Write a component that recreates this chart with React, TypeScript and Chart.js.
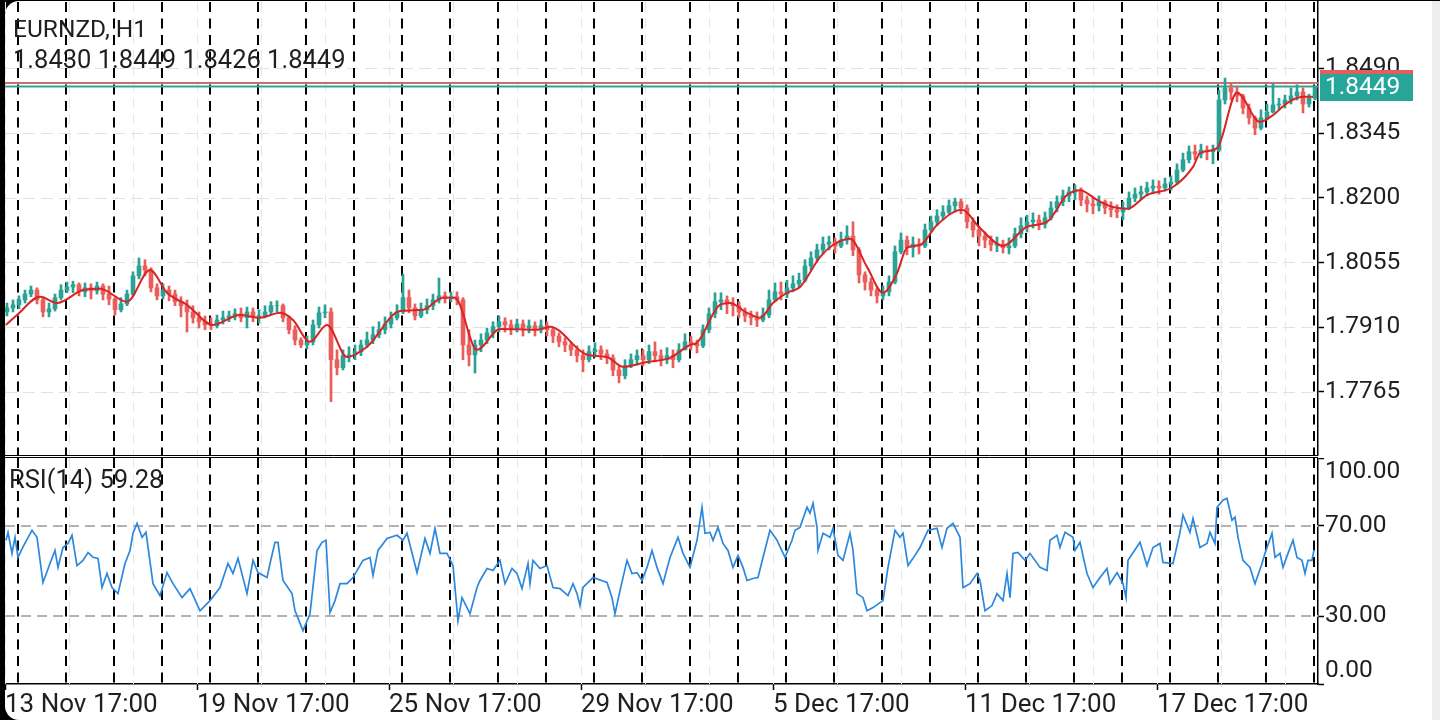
import React, { useEffect, useRef } from 'react';
import { Chart, registerables } from 'chart.js';

Chart.register(...registerables);

const FONT = 'Roboto, "Noto Sans", "DejaVu Sans", sans-serif';
const TEXT_COLOR = '#1f1f1f';

const SYMBOL_LABEL = 'EURNZD, H1';
const LAST_BAR_OHLC = '1.8430 1.8449 1.8426 1.8449';
const RSI_LABEL = 'RSI(14) 59.28';

// time axis (hours since 13 Nov 17:00)
const TIME_TICK_HOURS = [0, 96, 192, 288, 384, 480, 576];
const TIME_LABELS = ['13 Nov 17:00', '19 Nov 17:00', '25 Nov 17:00', '29 Nov 17:00', '5 Dec 17:00', '11 Dec 17:00', '17 Dec 17:00'];
const PRICE_TICKS = [1.7765, 1.791, 1.8055, 1.82, 1.8345, 1.849];
const RSI_TICKS = [0, 30, 70, 100];
const RSI_LEVELS = [30, 70];
const BID_PRICE = 1.8449;
const ASK_PRICE = 1.8457;

// candles, 3 hours each
const HOURS_PER_CANDLE = 3;
const FIRST_OPEN = 1.7944;
const CLOSE = [
  1.7953, 1.7960, 1.7971, 1.7984, 1.7993, 1.7971, 1.7944, 1.7951, 1.7976, 1.7993,
  1.8000, 1.8005, 1.7989, 1.7998, 1.7991, 1.8002, 1.7984, 1.7973, 1.7949, 1.7962,
  1.7984, 1.8025, 1.8047, 1.8038, 1.7998, 1.7980, 1.7993, 1.7984, 1.7967, 1.7958,
  1.7944, 1.7931, 1.7922, 1.7915, 1.7913, 1.7926, 1.7931, 1.7935, 1.7940, 1.7931,
  1.7944, 1.7933, 1.7935, 1.7944, 1.7958, 1.7958, 1.7931, 1.7904, 1.7881, 1.7870,
  1.7877, 1.7915, 1.7942, 1.7944, 1.7837, 1.7819, 1.7846, 1.7848, 1.7855, 1.7870,
  1.7881, 1.7893, 1.7904, 1.7917, 1.7931, 1.7944, 1.7976, 1.7953, 1.7935, 1.7949,
  1.7958, 1.7971, 1.7980, 1.7976, 1.7978, 1.7971, 1.7870, 1.7848, 1.7870, 1.7881,
  1.7897, 1.7911, 1.7922, 1.7915, 1.7908, 1.7917, 1.7908, 1.7913, 1.7904, 1.7913,
  1.7904, 1.7890, 1.7877, 1.7870, 1.7859, 1.7846, 1.7837, 1.7855, 1.7859, 1.7850,
  1.7841, 1.7814, 1.7801, 1.7823, 1.7837, 1.7846, 1.7837, 1.7855, 1.7846, 1.7837,
  1.7846, 1.7837, 1.7859, 1.7877, 1.7873, 1.7868, 1.7904, 1.7940, 1.7967, 1.7971,
  1.7962, 1.7958, 1.7944, 1.7935, 1.7931, 1.7926, 1.7937, 1.7971, 1.7989, 1.7984,
  1.7998, 1.8007, 1.8015, 1.8047, 1.8065, 1.8083, 1.8096, 1.8101, 1.8092, 1.8105,
  1.8114, 1.8083, 1.8027, 1.8011, 1.7993, 1.7980, 1.7989, 1.8011, 1.8079, 1.8105,
  1.8088, 1.8096, 1.8092, 1.8128, 1.8146, 1.8159, 1.8168, 1.8182, 1.8191, 1.8177,
  1.8146, 1.8128, 1.8114, 1.8105, 1.8094, 1.8096, 1.8088, 1.8092, 1.8119, 1.8137,
  1.8146, 1.8150, 1.8141, 1.8155, 1.8177, 1.8191, 1.8204, 1.8213, 1.8217, 1.8195,
  1.8186, 1.8182, 1.8191, 1.8177, 1.8173, 1.8168, 1.8177, 1.8199, 1.8208, 1.8213,
  1.8222, 1.8226, 1.8222, 1.8231, 1.8235, 1.8262, 1.8285, 1.8303, 1.8298, 1.8307,
  1.8303, 1.8307, 1.8419, 1.8446, 1.8437, 1.8428, 1.8401, 1.8379, 1.8356, 1.8379,
  1.8392, 1.8408, 1.8410, 1.8419, 1.8428, 1.8437, 1.8410, 1.8423, 1.8449,
];
const HIGH = [
  1.7964, 1.7971, 1.7980, 1.7993, 1.8002, 1.7998, 1.7978, 1.7964, 1.7984, 1.8005,
  1.8011, 1.8013, 1.8009, 1.8009, 1.8007, 1.8011, 1.8007, 1.8002, 1.7976, 1.7976,
  1.7993, 1.8034, 1.8065, 1.8061, 1.8043, 1.8007, 1.8007, 1.8002, 1.7993, 1.7978,
  1.7971, 1.7958, 1.7944, 1.7935, 1.7931, 1.7937, 1.7946, 1.7946, 1.7951, 1.7953,
  1.7955, 1.7953, 1.7949, 1.7958, 1.7967, 1.7969, 1.7962, 1.7935, 1.7913, 1.7886,
  1.7890, 1.7926, 1.7955, 1.7960, 1.7953, 1.7859, 1.7859, 1.7866, 1.7870, 1.7881,
  1.7899, 1.7911, 1.7922, 1.7933, 1.7944, 1.7960, 1.8029, 1.7993, 1.7962, 1.7964,
  1.7973, 1.7984, 1.8020, 1.7989, 1.7989, 1.7989, 1.7976, 1.7904, 1.7881, 1.7895,
  1.7908, 1.7922, 1.7935, 1.7931, 1.7926, 1.7928, 1.7926, 1.7926, 1.7922, 1.7926,
  1.7922, 1.7908, 1.7897, 1.7886, 1.7877, 1.7868, 1.7859, 1.7868, 1.7875, 1.7868,
  1.7859, 1.7848, 1.7823, 1.7837, 1.7850, 1.7859, 1.7859, 1.7870, 1.7877, 1.7859,
  1.7864, 1.7859, 1.7873, 1.7895, 1.7890, 1.7881, 1.7915, 1.7953, 1.7987, 1.7987,
  1.7980, 1.7976, 1.7967, 1.7953, 1.7946, 1.7944, 1.7953, 1.7993, 1.8009, 1.8011,
  1.8015, 1.8025, 1.8031, 1.8061, 1.8079, 1.8096, 1.8112, 1.8114, 1.8110, 1.8123,
  1.8137, 1.8146, 1.8088, 1.8034, 1.8020, 1.7998, 1.8002, 1.8025, 1.8092, 1.8121,
  1.8114, 1.8112, 1.8108, 1.8141, 1.8159, 1.8173, 1.8182, 1.8195, 1.8199, 1.8197,
  1.8184, 1.8155, 1.8137, 1.8123, 1.8114, 1.8112, 1.8105, 1.8110, 1.8132, 1.8155,
  1.8161, 1.8166, 1.8161, 1.8168, 1.8191, 1.8204, 1.8217, 1.8224, 1.8229, 1.8222,
  1.8204, 1.8199, 1.8204, 1.8195, 1.8191, 1.8184, 1.8191, 1.8213, 1.8222, 1.8226,
  1.8235, 1.8240, 1.8238, 1.8244, 1.8249, 1.8276, 1.8300, 1.8316, 1.8318, 1.8320,
  1.8316, 1.8318, 1.8441, 1.8468, 1.8455, 1.8450, 1.8432, 1.8410, 1.8383, 1.8397,
  1.8410, 1.8455, 1.8423, 1.8430, 1.8446, 1.8453, 1.8446, 1.8432, 1.8449,
];
const LOW = [
  1.7935, 1.7944, 1.7951, 1.7964, 1.7978, 1.7962, 1.7933, 1.7933, 1.7946, 1.7971,
  1.7987, 1.7987, 1.7980, 1.7978, 1.7973, 1.7984, 1.7971, 1.7960, 1.7937, 1.7944,
  1.7958, 1.7980, 1.8018, 1.8025, 1.7989, 1.7971, 1.7973, 1.7969, 1.7958, 1.7933,
  1.7899, 1.7919, 1.7908, 1.7904, 1.7904, 1.7908, 1.7917, 1.7922, 1.7926, 1.7922,
  1.7908, 1.7922, 1.7919, 1.7931, 1.7937, 1.7944, 1.7922, 1.7895, 1.7870, 1.7864,
  1.7861, 1.7870, 1.7908, 1.7931, 1.7743, 1.7803, 1.7814, 1.7832, 1.7837, 1.7846,
  1.7864, 1.7873, 1.7886, 1.7895, 1.7908, 1.7926, 1.7940, 1.7942, 1.7926, 1.7931,
  1.7940, 1.7949, 1.7964, 1.7964, 1.7967, 1.7960, 1.7837, 1.7823, 1.7807, 1.7855,
  1.7873, 1.7886, 1.7899, 1.7899, 1.7893, 1.7899, 1.7890, 1.7897, 1.7890, 1.7897,
  1.7890, 1.7875, 1.7866, 1.7855, 1.7846, 1.7832, 1.7810, 1.7832, 1.7843, 1.7837,
  1.7828, 1.7801, 1.7785, 1.7794, 1.7819, 1.7825, 1.7823, 1.7828, 1.7832, 1.7823,
  1.7828, 1.7819, 1.7832, 1.7859, 1.7859, 1.7852, 1.7864, 1.7897, 1.7931, 1.7949,
  1.7940, 1.7935, 1.7931, 1.7922, 1.7915, 1.7911, 1.7922, 1.7931, 1.7967, 1.7971,
  1.7976, 1.7989, 1.7998, 1.8011, 1.8038, 1.8056, 1.8074, 1.8083, 1.8076, 1.8088,
  1.8096, 1.8070, 1.8009, 1.7993, 1.7980, 1.7964, 1.7971, 1.7980, 1.8007, 1.8074,
  1.8072, 1.8067, 1.8074, 1.8088, 1.8123, 1.8137, 1.8150, 1.8164, 1.8168, 1.8164,
  1.8132, 1.8112, 1.8092, 1.8088, 1.8081, 1.8079, 1.8076, 1.8074, 1.8088, 1.8110,
  1.8123, 1.8132, 1.8128, 1.8132, 1.8150, 1.8168, 1.8182, 1.8191, 1.8195, 1.8182,
  1.8168, 1.8164, 1.8170, 1.8164, 1.8157, 1.8155, 1.8150, 1.8173, 1.8191, 1.8195,
  1.8204, 1.8211, 1.8208, 1.8215, 1.8217, 1.8231, 1.8258, 1.8278, 1.8285, 1.8289,
  1.8285, 1.8276, 1.8303, 1.8410, 1.8419, 1.8415, 1.8388, 1.8365, 1.8341, 1.8352,
  1.8374, 1.8390, 1.8397, 1.8401, 1.8410, 1.8419, 1.8390, 1.8403, 1.8419,
];

// moving average line (hour, price)
const MA_HOURS = [
  0.5, 6, 17.5, 26, 39, 47.5, 61, 72.5, 81, 91,
  104, 117.5, 127.5, 137.5, 144, 152.5, 161, 171, 181, 197.5,
  209, 219, 225, 236, 247.5, 266, 272.5, 291, 301, 309,
  321, 332.5, 342.5, 346, 357.5, 362.5, 371, 377.5, 384, 391,
  397.5, 407.5, 414, 422.5, 431, 439, 446, 451, 457.5, 466,
  478.5, 487.5, 499, 511, 521, 531, 537.5, 546, 554, 561,
  571, 584, 594, 597.5, 606, 616, 627.5, 634, 641, 649,
  654,
];
const MA_VALUES = [
  1.7915, 1.7937, 1.7978, 1.7964, 1.7993, 1.7996, 1.7967, 1.8038, 1.7987, 1.7960,
  1.7915, 1.7937, 1.7931, 1.7942, 1.7926, 1.7877, 1.7915, 1.7843, 1.7866, 1.7946,
  1.7949, 1.7976, 1.7976, 1.7859, 1.7906, 1.7904, 1.7911, 1.7848, 1.7843, 1.7821,
  1.7832, 1.7841, 1.7870, 1.7875, 1.7960, 1.7964, 1.7942, 1.7931, 1.7964, 1.7987,
  1.8000, 1.8067, 1.8094, 1.8108, 1.8045, 1.7987, 1.8031, 1.8088, 1.8094, 1.8139,
  1.8173, 1.8132, 1.8092, 1.8135, 1.8146, 1.8206, 1.8217, 1.8195, 1.8179, 1.8175,
  1.8206, 1.8224, 1.8269, 1.8300, 1.8311, 1.8435, 1.8370, 1.8385, 1.8412, 1.8426,
  1.8426,
];

// RSI(14) line (hour, value)
const RSI_HOURS = [
  0.5, 1.5, 3.5, 5, 6.5, 9, 13.5, 16, 19, 22.5,
  25, 26.5, 29, 31.5, 33.5, 36, 39, 41.5, 44, 46.5,
  48.5, 51, 53.5, 56.5, 60, 62.5, 64, 66, 68.5, 70.5,
  74, 77.5, 81, 84, 88.5, 92.5, 97.5, 102.5, 107.5, 111.5,
  114, 116.5, 121, 124, 126.5, 131, 132.5, 135, 136.5, 139,
  143.5, 145, 149, 152.5, 156, 158.5, 160.5, 162.5, 165, 167.5,
  171, 174, 176, 179, 182.5, 184, 186.5, 191, 196, 199,
  201, 206, 210, 212.5, 215, 217.5, 221, 224, 226.5, 228.5,
  232.5, 236, 237.5, 241, 244, 247.5, 250, 253.5, 256, 258.5,
  261.5, 262.5, 264, 267.5, 271, 274, 277.5, 281.5, 284, 286,
  287.5, 289, 294, 301, 303.5, 305, 307.5, 311, 313.5, 316,
  318.5, 321, 323.5, 326, 329, 332.5, 336.5, 339, 342.5, 346,
  347, 348.5, 350, 352.5, 354, 356.5, 359, 361.5, 364, 366.5,
  369, 371, 374, 376.5, 379, 382.5, 386, 390, 393.5, 395,
  397.5, 401, 402.5, 404, 406, 406.5, 409, 412.5, 414, 416.5,
  419, 422.5, 424, 426, 429, 431, 434, 437.5, 439, 441.5,
  445, 447.5, 449, 451.5, 454, 457.5, 461.5, 466, 468.5, 471,
  474, 477.5, 479, 482.5, 486, 487.5, 490, 493.5, 496, 499,
  501, 502.5, 504, 506.5, 510, 512.5, 517.5, 521, 522.5, 526,
  527.5, 530, 534, 535, 537.5, 541, 544, 547.5, 551, 552.5,
  556, 559, 560.5, 561.5, 567.5, 571, 574, 577.5, 579, 584,
  587.5, 589, 592.5, 594, 597.5, 601, 602.5, 605, 606, 609,
  611, 613.5, 615, 616.5, 619, 622.5, 625, 628.5, 630, 633.5,
  635, 637.5, 639, 641.5, 644, 646, 648.5, 650, 651.5, 653.5,
  654.5,
];
const RSI_VALUES = [
  63.6, 67.1, 57.8, 64.9, 56.0, 60.7, 68.0, 64.9, 44.9, 53.3,
  59.1, 51.6, 60.4, 62.2, 65.8, 52.4, 54.7, 58.2, 56.1, 55.6,
  42.7, 48.9, 42.7, 40.0, 53.3, 59.1, 66.7, 71.1, 64.9, 67.1,
  44.4, 39.1, 49.3, 44.4, 38.2, 42.2, 32.4, 36.9, 42.7, 53.3,
  48.9, 55.6, 40.0, 54.7, 49.3, 47.1, 53.3, 62.7, 62.7, 45.8,
  40.0, 32.4, 23.6, 31.1, 59.1, 62.7, 63.6, 31.6, 36.9, 44.4,
  44.4, 47.1, 50.2, 54.7, 56.0, 48.0, 59.1, 64.4, 65.8, 63.6,
  66.7, 49.3, 64.4, 57.8, 68.9, 57.8, 57.8, 52.4, 28.0, 38.2,
  31.1, 42.7, 45.8, 51.1, 50.2, 54.7, 44.4, 51.1, 48.9, 42.2,
  53.3, 44.4, 54.7, 51.1, 52.4, 42.7, 42.2, 39.1, 44.4, 40.0,
  34.7, 42.7, 47.1, 44.9, 38.2, 31.1, 41.3, 54.7, 48.9, 49.3,
  45.8, 51.6, 59.1, 51.6, 44.4, 56.0, 64.9, 57.8, 51.6, 63.6,
  69.3, 78.2, 66.7, 67.1, 63.6, 69.3, 62.2, 59.1, 51.6, 56.9,
  51.6, 45.8, 46.7, 47.1, 56.0, 68.0, 63.6, 56.0, 63.6, 68.0,
  69.3, 78.2, 75.6, 80.0, 69.3, 59.1, 66.7, 64.9, 68.9, 56.9,
  54.7, 66.7, 59.1, 40.0, 38.2, 32.4, 33.8, 36.0, 36.9, 51.6,
  68.0, 64.9, 66.7, 52.4, 55.6, 60.4, 68.0, 68.9, 60.4, 68.9,
  71.1, 64.9, 42.7, 44.4, 48.9, 45.8, 32.4, 34.7, 40.0, 36.9,
  48.9, 38.2, 57.8, 58.2, 54.7, 57.8, 51.6, 50.2, 63.6, 65.8,
  60.4, 67.1, 64.9, 59.1, 62.7, 48.9, 42.7, 47.1, 51.1, 44.4,
  49.3, 44.4, 38.2, 54.7, 62.7, 52.4, 60.4, 62.2, 53.8, 53.3,
  67.1, 74.7, 67.1, 73.3, 60.4, 62.2, 67.1, 62.2, 78.2, 81.3,
  82.2, 72.4, 73.8, 64.9, 54.7, 51.6, 44.4, 53.3, 57.8, 66.7,
  56.0, 57.8, 51.6, 57.8, 63.6, 56.0, 54.7, 48.9, 54.7, 54.7,
  59.28,
];

// ---------- styling / layout ----------
const BULL_COLOR = '#2aa396';
const BEAR_COLOR = '#ea5d5b';
const MA_COLOR = '#d82424';
const RSI_COLOR = '#2c88dc';
const X_MIN = 0;
const X_MAX = 656.5;
const PRICE_MIN = 1.76234;
const PRICE_MAX = 1.86386;
const GRID_HOURS = 32;
const DAY_SEPARATOR_OFFSET = 6.5;
const AXIS_WIDTH = 122;

const OPEN = CLOSE.map((_, i) => (i === 0 ? FIRST_OPEN : CLOSE[i - 1]));
const CANDLE_HOURS = CLOSE.map((_, i) => 1 + HOURS_PER_CANDLE * i);
const CANDLE_COLORS = CLOSE.map((c, i) => (c >= OPEN[i] ? BULL_COLOR : BEAR_COLOR));

function line(ctx: CanvasRenderingContext2D, x0: number, y0: number, x1: number, y1: number) {
  ctx.beginPath();
  ctx.moveTo(x0, y0);
  ctx.lineTo(x1, y1);
  ctx.stroke();
}

function drawVerticalGuides(chart: any) {
  const { ctx, chartArea: a } = chart;
  const xs = chart.scales.x;
  // faint grid
  ctx.strokeStyle = '#e6e6e6';
  ctx.lineWidth = 1;
  ctx.setLineDash([10, 6]);
  for (let h = X_MIN; h <= X_MAX; h += GRID_HOURS) {
    const x = Math.round(xs.getPixelForValue(h)) + 0.5;
    line(ctx, x, a.top, x, a.bottom);
  }
  // day separators
  ctx.strokeStyle = '#000000';
  ctx.lineWidth = 2;
  ctx.setLineDash([10, 6.5]);
  for (let h = DAY_SEPARATOR_OFFSET; h <= X_MAX; h += 24) {
    const x = Math.round(xs.getPixelForValue(h));
    line(ctx, x, a.top, x, a.bottom);
  }
  ctx.setLineDash([]);
}

const pricePanePlugin = {
  id: 'pricePane',
  beforeDatasetsDraw(chart: any) {
    const { ctx, chartArea: a } = chart;
    const ys = chart.scales.y;
    ctx.save();
    ctx.beginPath();
    ctx.rect(a.left, a.top, a.right - a.left, a.bottom - a.top);
    ctx.clip();
    ctx.strokeStyle = '#e2e2e2';
    ctx.lineWidth = 1;
    ctx.setLineDash([12, 6]);
    PRICE_TICKS.forEach((v) => {
      const y = Math.round(ys.getPixelForValue(v)) + 0.5;
      line(ctx, a.left, y, a.right, y);
    });
    ctx.setLineDash([]);
    drawVerticalGuides(chart);
    ctx.lineWidth = 2;
    ctx.strokeStyle = '#c96e6c';
    const ay = ys.getPixelForValue(ASK_PRICE);
    line(ctx, a.left, ay, a.right, ay);
    ctx.strokeStyle = '#35a39b';
    const by = ys.getPixelForValue(BID_PRICE);
    line(ctx, a.left, by, a.right, by);
    ctx.restore();
  },
  afterDraw(chart: any) {
    const { ctx, chartArea: a } = chart;
    const ys = chart.scales.y;
    ctx.save();
    // pane separator (double line)
    ctx.strokeStyle = '#000';
    ctx.lineWidth = 1;
    line(ctx, a.left, a.bottom + 0.5, a.right, a.bottom + 0.5);
    line(ctx, a.left, a.bottom + 2.5, a.right, a.bottom + 2.5);
    // price labels
    const bx = a.right + 2;
    const bw = 93;
    const bh = 26;
    const ay = ys.getPixelForValue(ASK_PRICE);
    ctx.fillStyle = '#e35e5c';
    ctx.fillRect(bx, Math.round(ay - bh / 2), bw, bh);
    const by = ys.getPixelForValue(BID_PRICE);
    ctx.fillStyle = '#26a69a';
    ctx.fillRect(bx, Math.round(by - bh / 2), bw, bh + 1);
    ctx.fillStyle = '#ffffff';
    ctx.font = `24.5px ${FONT}`;
    ctx.textBaseline = 'middle';
    ctx.textAlign = 'left';
    ctx.fillText(BID_PRICE.toFixed(4), bx + 5, by + 1);
    ctx.restore();
  },
};

const rsiPanePlugin = {
  id: 'rsiPane',
  beforeDatasetsDraw(chart: any) {
    const { ctx, chartArea: a } = chart;
    const ys = chart.scales.y;
    ctx.save();
    ctx.beginPath();
    ctx.rect(a.left, a.top, a.right - a.left, a.bottom - a.top);
    ctx.clip();
    drawVerticalGuides(chart);
    ctx.strokeStyle = '#b3b3b3';
    ctx.lineWidth = 2;
    ctx.setLineDash([10, 6]);
    RSI_LEVELS.forEach((v) => {
      const y = Math.round(ys.getPixelForValue(v));
      line(ctx, a.left, y, a.right, y);
    });
    ctx.restore();
  },
};

const tickFont = { family: FONT, size: 24.5 };

function priceConfig(): any {
  return {
    type: 'bar',
    data: {
      datasets: [
        {
          type: 'line',
          label: 'MA',
          order: 0,
          data: MA_HOURS.map((h, i) => ({ x: h, y: MA_VALUES[i] })),
          borderColor: MA_COLOR,
          borderWidth: 2,
          pointRadius: 0,
          cubicInterpolationMode: 'monotone',
          fill: false,
        },
        {
          label: 'body',
          order: 1,
          data: CANDLE_HOURS.map((h, i) => ({ x: h, y: [OPEN[i], CLOSE[i]] })),
          backgroundColor: CANDLE_COLORS,
          grouped: false,
          barThickness: 4,
          maxBarThickness: 4,
          borderWidth: 0,
        },
        {
          label: 'wick',
          order: 2,
          data: CANDLE_HOURS.map((h, i) => ({ x: h, y: [LOW[i], HIGH[i]] })),
          backgroundColor: CANDLE_COLORS,
          grouped: false,
          barThickness: 2,
          maxBarThickness: 2,
          borderWidth: 0,
        },
      ],
    },
    options: {
      animation: false,
      responsive: false,
      devicePixelRatio: 1,
      events: [],
      layout: { padding: { left: 5, right: 0, top: 2, bottom: 3 } },
      plugins: { legend: { display: false }, tooltip: { enabled: false }, title: { display: false } },
      scales: {
        x: { type: 'linear', min: X_MIN, max: X_MAX, offset: false, display: false },
        y: {
          position: 'right',
          min: PRICE_MIN,
          max: PRICE_MAX,
          afterBuildTicks: (s: any) => {
            s.ticks = PRICE_TICKS.map((v) => ({ value: v }));
          },
          afterFit: (s: any) => {
            s.width = AXIS_WIDTH;
            s.paddingTop = 0;
            s.paddingBottom = 0;
          },
          grid: { display: true, drawOnChartArea: false, drawTicks: true, tickLength: 6, tickColor: '#000', tickWidth: 1.5 },
          border: { display: true, color: '#000', width: 1.5 },
          ticks: {
            padding: 1,
            color: TEXT_COLOR,
            font: tickFont,
            autoSkip: false,
            callback: (v: any) => Number(v).toFixed(4),
          },
        },
      },
    },
    plugins: [pricePanePlugin],
  };
}

function rsiConfig(): any {
  return {
    type: 'line',
    data: {
      datasets: [
        {
          label: 'RSI(14)',
          data: RSI_HOURS.map((h, i) => ({ x: h, y: RSI_VALUES[i] })),
          borderColor: RSI_COLOR,
          borderWidth: 1.7,
          pointRadius: 0,
          tension: 0,
          fill: false,
        },
      ],
    },
    options: {
      animation: false,
      responsive: false,
      devicePixelRatio: 1,
      events: [],
      layout: { padding: { left: 5, right: 0, top: 0, bottom: 0 } },
      plugins: { legend: { display: false }, tooltip: { enabled: false }, title: { display: false } },
      scales: {
        x: {
          type: 'linear',
          min: X_MIN,
          max: X_MAX,
          offset: false,
          position: 'bottom',
          afterBuildTicks: (s: any) => {
            s.ticks = TIME_TICK_HOURS.map((v) => ({ value: v }));
          },
          afterFit: (s: any) => {
            s.height = 36;
            s.paddingLeft = 0;
            s.paddingRight = 0;
          },
          grid: { display: true, drawOnChartArea: false, drawTicks: true, tickLength: 6, tickColor: '#000', tickWidth: 1.5 },
          border: { display: true, color: '#000', width: 1.5 },
          ticks: {
            align: 'start',
            padding: 2,
            maxRotation: 0,
            minRotation: 0,
            autoSkip: false,
            color: TEXT_COLOR,
            font: { family: FONT, size: 26, lineHeight: 1 },
            callback: (v: any) => TIME_LABELS[TIME_TICK_HOURS.indexOf(Number(v))] ?? '',
          },
        },
        y: {
          position: 'right',
          min: 0,
          max: 100,
          afterBuildTicks: (s: any) => {
            s.ticks = RSI_TICKS.map((v) => ({ value: v }));
          },
          afterFit: (s: any) => {
            s.width = AXIS_WIDTH;
            s.paddingTop = 0;
            s.paddingBottom = 0;
          },
          grid: { display: true, drawOnChartArea: false, drawTicks: true, tickLength: 6, tickColor: '#000', tickWidth: 1.5 },
          border: { display: true, color: '#000', width: 1.5 },
          ticks: {
            padding: 1,
            color: TEXT_COLOR,
            font: { family: FONT, size: 24.5, lineHeight: 1.1 },
            autoSkip: false,
            callback: (v: any) => {
              const n = Number(v);
              if (n === 100) return ['', '100.00'];
              if (n === 0) return ['0.00', ''];
              return n.toFixed(2);
            },
          },
        },
      },
    },
    plugins: [rsiPanePlugin],
  };
}

export default function App() {
  const priceRef = useRef<HTMLCanvasElement>(null);
  const rsiRef = useRef<HTMLCanvasElement>(null);

  useEffect(() => {
    const pc = new Chart(priceRef.current as HTMLCanvasElement, priceConfig());
    const rc = new Chart(rsiRef.current as HTMLCanvasElement, rsiConfig());
    return () => {
      pc.destroy();
      rc.destroy();
    };
  }, []);

  const textBase: React.CSSProperties = {
    position: 'absolute',
    color: TEXT_COLOR,
    fontFamily: FONT,
    whiteSpace: 'nowrap',
  };

  return (
    <div style={{ position: 'fixed', left: 0, top: 0, width: 1440, height: 720, background: '#000', overflow: 'hidden' }}>
      <div
        style={{
          position: 'absolute',
          left: 5,
          top: 1,
          width: 1427,
          height: 719,
          background: '#fff',
          borderTopLeftRadius: 14,
          borderBottomLeftRadius: 14,
        }}
      />
      <div style={{ position: 'absolute', left: 1432, top: 1, width: 8, height: 719, background: '#eeeeee' }} />
      <canvas ref={priceRef} width={1440} height={458} style={{ position: 'absolute', left: 0, top: 0 }} />
      <canvas ref={rsiRef} width={1440} height={262} style={{ position: 'absolute', left: 0, top: 458 }} />
      <div style={{ ...textBase, left: 13, top: 17, fontSize: 24.5, lineHeight: '24px' }}>{SYMBOL_LABEL}</div>
      <div style={{ ...textBase, left: 13, top: 47, fontSize: 25.5, lineHeight: '25px' }}>{LAST_BAR_OHLC}</div>
      <div style={{ ...textBase, left: 9, top: 467, fontSize: 25.5, lineHeight: '25px' }}>{RSI_LABEL}</div>
    </div>
  );
}
